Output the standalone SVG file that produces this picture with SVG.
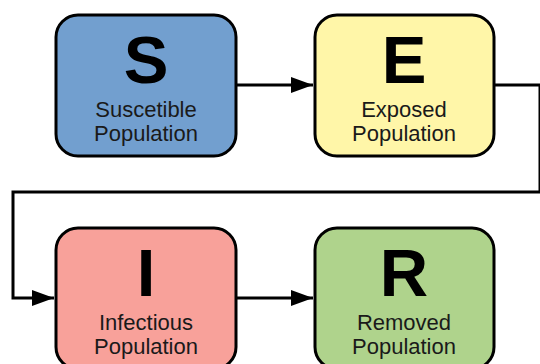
<svg xmlns="http://www.w3.org/2000/svg" width="540" height="364" viewBox="0 0 540 364">
<defs>
<marker id="ah" markerWidth="7.5" markerHeight="5.4" refX="7.5" refY="2.7" orient="auto" markerUnits="strokeWidth" viewBox="0 0 7.5 5.4">
<path d="M0,0 L7.5,2.7 L0,5.4 Z" fill="#000"/>
</marker>
<style>
.box{stroke:#000;stroke-width:3}
.big{font-family:"Liberation Sans",Arial,sans-serif;font-weight:bold;font-size:67px;fill:#000;text-anchor:middle}
.sub{font-family:"Liberation Sans",Arial,sans-serif;font-size:22px;fill:#1a1a1a;text-anchor:middle}
.conn{fill:none;stroke:#000;stroke-width:3}
</style>
</defs>
<rect width="540" height="364" fill="#fff"/>
<g id="connectors">
<path class="conn" d="M236,85 L313,85" marker-end="url(#ah)"/>
<path class="conn" d="M494,85 L540,85 L540,192 L13,192 L13,298 L54,298" marker-end="url(#ah)"/>
<path class="conn" d="M236,298 L313,298" marker-end="url(#ah)"/>
</g>
<g id="S">
<rect class="box" x="56" y="15" width="180" height="141" rx="22" fill="#729fcf"/>
<text class="big" x="146" y="83">S</text>
<text class="sub" x="146" y="117">Suscetible</text>
<text class="sub" x="146" y="141">Population</text>
</g>
<g id="E">
<rect class="box" x="315" y="15" width="179" height="141" rx="22" fill="#fff6a8"/>
<text class="big" x="404" y="83">E</text>
<text class="sub" x="404" y="117">Exposed</text>
<text class="sub" x="404" y="141">Population</text>
</g>
<g id="I">
<rect class="box" x="56" y="228" width="180" height="141" rx="22" fill="#f8a19a"/>
<text class="big" x="146" y="296">I</text>
<text class="sub" x="146" y="330">Infectious</text>
<text class="sub" x="146" y="354">Population</text>
</g>
<g id="R">
<rect class="box" x="315" y="228" width="179" height="141" rx="22" fill="#afd38c"/>
<text class="big" x="404" y="296">R</text>
<text class="sub" x="404" y="330">Removed</text>
<text class="sub" x="404" y="354">Population</text>
</g>
</svg>
